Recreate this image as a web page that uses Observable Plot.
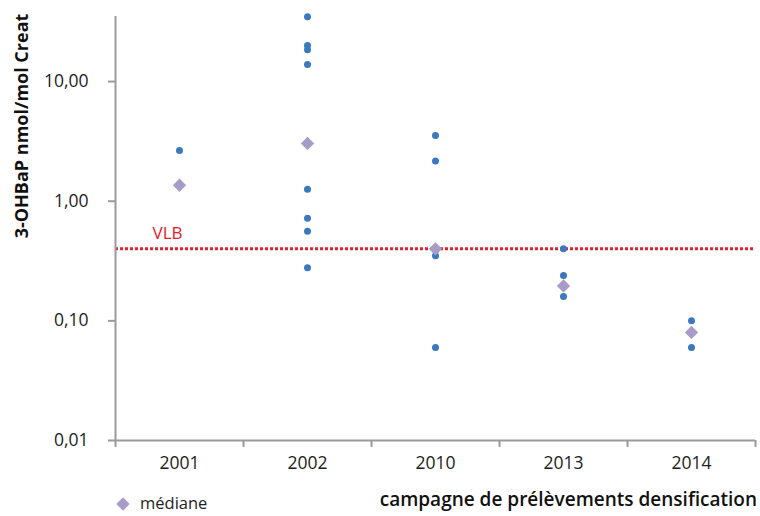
<!DOCTYPE html>
<html>
<head>
<meta charset="utf-8">
<script src="https://cdn.jsdelivr.net/npm/d3@7"></script>
<script src="https://cdn.jsdelivr.net/npm/@observablehq/plot@0.6"></script>
<style>
  html, body { margin: 0; padding: 0; background: #fff; }
  #chart { width: 760px; height: 516px; }
  svg { font-family: "Open Sans", "DejaVu Sans", sans-serif; }
</style>
</head>
<body>
<div id="chart"></div>
<script>
const years = ["2001", "2002", "2010", "2013", "2014"];
const values2001 = [2.66];
const values2002 = [34.8, 20, 18.5, 13.9, 1.26, 0.72, 0.56, 0.278];
const values2010 = [3.55, 2.17, 0.39, 0.35, 0.06];
const values2013 = [0.40, 0.24, 0.16];
const values2014 = [0.10, 0.06];
const medians = [1.36, 3.04, 0.40, 0.196, 0.08];
const vlb = 0.4;
const yTicks = [0.01, 0.1, 1, 10];
const yLabel = "3-OHBaP nmol/mol Creat";
const xLabel = "campagne de prélèvements densification";
const legendLabel = "médiane";

const series = [values2001, values2002, values2010, values2013, values2014];
const points = series.flatMap((vals, i) => vals.map(v => ({i: i + 0.5, v})));
const medianRows = medians.map((v, i) => ({i: i + 0.5, v}));
const catTicks = years.map((_, i) => i + 0.5);
const boundaries = d3.range(years.length + 1);

const fmt = v => v.toFixed(2).replace(".", ",");

const chart = Plot.plot({
  width: 760,
  height: 516,
  marginLeft: 115,
  marginRight: 5,
  marginTop: 16,
  marginBottom: 76,
  style: {fontFamily: '"Open Sans", "DejaVu Sans", sans-serif', fontSize: "17px", color: "#222"},
  x: {type: "linear", domain: [0, years.length]},
  y: {type: "log", domain: [0.01, 35]},
  marks: [
    Plot.ruleY([vlb], {stroke: "#e3202b", strokeWidth: 3, strokeDasharray: "3,2"}),
    Plot.text([vlb], {x: 0, y: d => d, text: () => "VLB", fill: "#e3202b", dx: 37, dy: -15, textAnchor: "start", fontSize: 17}),
    Plot.ruleX([0], {stroke: "#9a9a9a", strokeWidth: 2}),
    Plot.ruleY([0.01], {stroke: "#9a9a9a", strokeWidth: 2}),
    Plot.axisY({ticks: yTicks, tickFormat: fmt, tickSize: 7, tickPadding: 20, stroke: "#9a9a9a", strokeWidth: 2, label: null, fontSize: 17.5, fill: "#222"}),
    Plot.axisX({ticks: boundaries, tickFormat: () => "", tickSize: 7, stroke: "#9a9a9a", strokeWidth: 2, label: null}),
    Plot.axisX({ticks: catTicks, tickFormat: d => years[Math.floor(d)], tickSize: 0, tickPadding: 16, label: null, fontSize: 17.5, fill: "#222"}),
    Plot.dot(points, {x: "i", y: "v", r: 3.5, fill: "#3b78c0", stroke: "none"}),
    Plot.dot(medianRows, {x: "i", y: "v", r: 6, symbol: "diamond2", fill: "#a99bc8", stroke: "none"})
  ]
});

const svg = d3.select(chart);
// y axis title
svg.append("text")
  .attr("transform", "translate(28,126) rotate(-90)")
  .attr("text-anchor", "middle")
  .attr("font-size", 18)
  .attr("font-weight", "bold")
  .attr("fill", "#111")
  .text(yLabel);
// x axis title
svg.append("text")
  .attr("x", 757).attr("y", 506)
  .attr("text-anchor", "end")
  .attr("font-size", 19)
  .attr("font-weight", 600)
  .attr("fill", "#111")
  .text(xLabel);
// legend
svg.append("path")
  .attr("d", d3.symbol(d3.symbolDiamond2, Math.PI * 36)())
  .attr("transform", "translate(123,504)")
  .attr("fill", "#a99bc8");
svg.append("text")
  .attr("x", 140).attr("y", 509)
  .attr("text-anchor", "start")
  .attr("font-size", 16.5)
  .attr("fill", "#222")
  .text(legendLabel);

document.getElementById("chart").appendChild(chart);
</script>
</body>
</html>
